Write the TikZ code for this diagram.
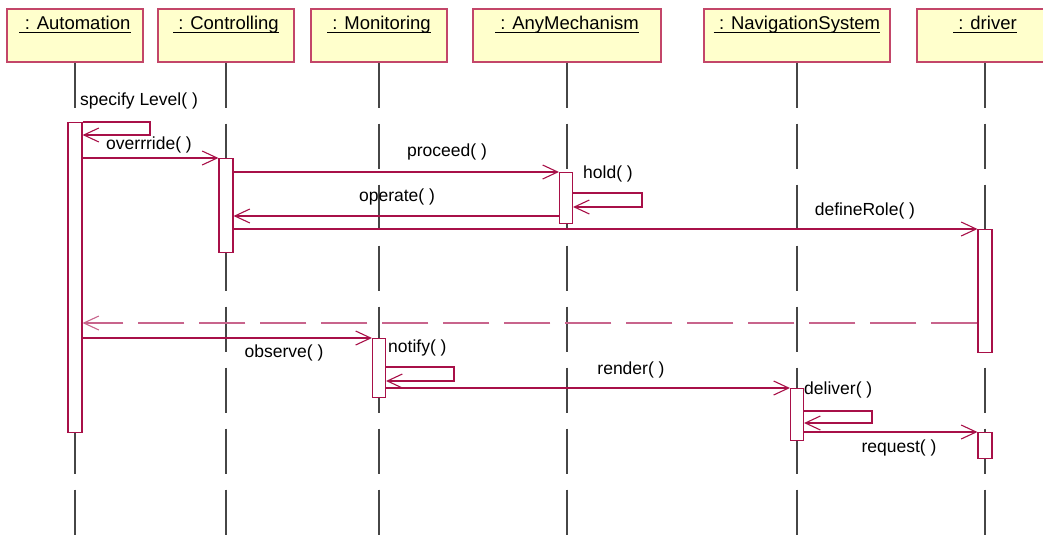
\documentclass[tikz,border=0pt]{standalone}
\usepackage{fontspec}
\setmainfont{Liberation Sans}
\usetikzlibrary{arrows.meta,calc}
\definecolor{hdrfill}{RGB}{255,255,204}
\definecolor{hdrline}{RGB}{195,70,105}
\definecolor{msgc}{RGB}{168,16,72}
\definecolor{retc}{RGB}{200,100,140}
\definecolor{lifec}{RGB}{70,70,70}
\tikzset{
 hdr/.style={draw=hdrline, fill=hdrfill, line width=1.3pt, minimum width=136pt, minimum height=53pt, inner sep=0pt},
 hdrtext/.style={inner sep=0pt, anchor=base, font=\fontsize{18.5}{20}\selectfont},
 ul/.style={line width=1.2pt, black},
 life/.style={lifec, line width=1.2pt, dash pattern=on 45pt off 16pt},
 act/.style={draw=msgc, fill=white, line width=1.1pt, minimum width=14pt, inner sep=0pt, anchor=north},
 tip/.style={-{Straight Barb[length=15pt,width=14pt]}},
 msg/.style={msgc, line width=1.1pt, tip},
 ret/.style={retc, line width=1.1pt, dash pattern=on 46pt off 15pt, tip},
 lbl/.style={inner sep=0pt, font=\fontsize{17.5}{20}\selectfont},
}
\begin{document}
\begin{tikzpicture}[x=1pt,y=-1pt]
\clip (0,0) rectangle (1043,535);
% headers
\node[hdr] (hA) at (75,35.5) {};
\node[hdr] (hC) at (226,35.5) {};
\node[hdr] (hM) at (379,35.5) {};
\node[hdr, minimum width=188pt] (hY) at (567,35.5) {};
\node[hdr, minimum width=186pt] (hN) at (797,35.5) {};
\node[hdr] (hD) at (985,35.5) {};
\node[hdrtext] (tA) at (75,30) {\ : Automation};
\node[hdrtext] (tC) at (226,30) {\ : Controlling};
\node[hdrtext] (tM) at (379,30) {\ : Monitoring};
\node[hdrtext] (tY) at (567,30) {\ : AnyMechanism};
\node[hdrtext] (tN) at (797,30) {\ : NavigationSystem};
\node[hdrtext] (tD) at (985,30) {\ : driver};
\foreach \t in {tA,tC,tM,tY,tN,tD}
  \draw[ul] ([yshift=-2.5pt]\t.base west) -- ([yshift=-2.5pt]\t.base east);
% lifelines
\coordinate (eA) at (75,535);
\coordinate (eC) at (226,535);
\coordinate (eM) at (379,535);
\coordinate (eY) at (567,535);
\coordinate (eN) at (797,535);
\coordinate (eD) at (985,535);
\draw[life] (hA.south) -- (eA);
\draw[life] (hC.south) -- (eC);
\draw[life] (hM.south) -- (eM);
\draw[life] (hY.south) -- (eY);
\draw[life] (hN.south) -- (eN);
\draw[life] (hD.south) -- (eD);
% activations
\node[act, minimum height=310pt] (aA) at (75,122) {};
\node[act, minimum height=94pt] (aC) at (226,158) {};
\node[act, minimum height=51pt, minimum width=13pt] (aY) at (566,172) {};
\node[act, minimum height=59pt, minimum width=13pt] (aMo) at (379,338) {};
\node[act, minimum height=52pt, minimum width=13pt] (aN) at (797,388) {};
\node[act, minimum height=123pt] (aD1) at (985,229) {};
\node[act, minimum height=26pt] (aD2) at (985,432) {};
% messages
\coordinate (s1a) at (150,122);
\coordinate (s1b) at (150,135);
\draw[msg] (aA.north east) -- (s1a) -- (s1b) -- (aA.east |- s1b);
\draw[msg] (aA.east |- aC.north) -- (aC.north west);
\draw[msg] (aC.east |- aY.north) -- (aY.north west);
\coordinate (h1) at (642,193);
\coordinate (h2) at (642,207);
\draw[msg] (aY.east |- h1) -- (h1) -- (h2) -- (aY.east |- h2);
\coordinate (op) at (0,216);
\draw[msg] (aY.west |- op) -- (aC.east |- op);
\draw[msg] (aC.east |- aD1.north) -- (aD1.north west);
\coordinate (rt) at (0,323);
\draw[ret] (aD1.west |- rt) -- (aA.east |- rt);
\draw[msg] (aA.east |- aMo.north) -- (aMo.north west);
\coordinate (n1) at (454,367);
\coordinate (n2) at (454,381);
\draw[msg] (aMo.east |- n1) -- (n1) -- (n2) -- (aMo.east |- n2);
\draw[msg] (aMo.east |- aN.north) -- (aN.north west);
\coordinate (d1) at (872,411);
\coordinate (d2) at (872,423);
\draw[msg] (aN.east |- d1) -- (d1) -- (d2) -- (aN.east |- d2);
\draw[msg] (aN.east |- aD2.north) -- (aD2.north west);
% labels
\node[lbl, anchor=west] (l1) at (80,101) {specify Level( )};
\node[lbl] (l2) at (149,145) {overrride( )};
\node[lbl] (l3) at (447,152) {proceed( )};
\node[lbl, anchor=west] (l4) at (583,174) {hold( )};
\node[lbl] (l5) at (397,197) {operate( )};
\node[lbl] (l6) at (865,211) {defineRole( )};
\node[lbl] (l7) at (284,353) {observe( )};
\node[lbl, anchor=west] (l8) at (388,348) {notify( )};
\node[lbl] (l9) at (631,370) {render( )};
\node[lbl, anchor=west] (l10) at (804,390) {deliver( )};
\node[lbl] (l11) at (899,448) {request( )};
\end{tikzpicture}
\end{document}
